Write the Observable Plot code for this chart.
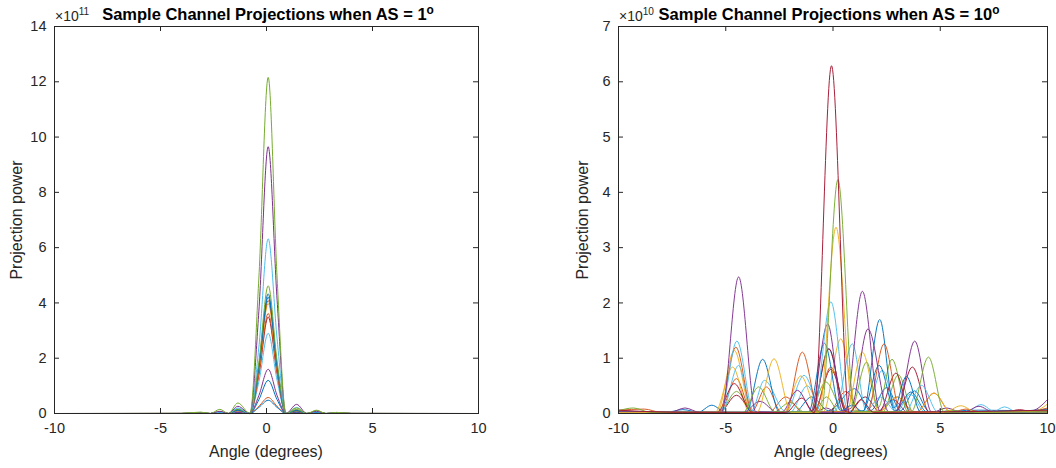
<!DOCTYPE html>
<html><head><meta charset="utf-8">
<script src="https://cdn.jsdelivr.net/npm/d3@7"></script>
<script src="https://cdn.jsdelivr.net/npm/@observablehq/plot@0.6"></script>
<style>
body{margin:0;background:#fff;font-family:"Liberation Sans",Arial,Helvetica,sans-serif;}
#fig{position:relative;width:1056px;height:468px;overflow:hidden;background:#fff;}
.panel{position:absolute;top:0;}
.t{position:absolute;white-space:nowrap;color:#000;line-height:1;}
.sup{position:relative;font-size:0.72em;}
</style></head><body><div id="fig"></div>
<script>
// ---------- tick labels ----------
const xTicks = [-10, -5, 0, 5, 10];
const leftYTicks = [0, 2, 4, 6, 8, 10, 12, 14];
const rightYTicks = [0, 1, 2, 3, 4, 5, 6, 7];

// ---------- left panel (AS = 1°), values in units of 1e11 on a shared angle grid ----------
const leftAngles = [-10, -4, -3.1, -2.65, -2.2, -1.8, -1.35, -0.78, -0.36, 0.08, 0.5, 0.92, 1.42, 1.9, 2.36, 2.8, 3.3, 4, 10];
const as1_orange3 = [0, 0, 0, 0, 0.01, 0, 0.02, 0, 0.26, 0.58, 0.26, 0, 0.02, 0, 0.01, 0, 0, 0, 0];
const as1_blue4   = [0, 0, 0, 0, 0.01, 0, 0.02, 0, 0.22, 0.48, 0.22, 0, 0.02, 0, 0.01, 0, 0, 0, 0];
const as1_blue3   = [0, 0, 0, 0, 0.01, 0, 0.04, 0, 0.5, 1.2, 0.5, 0, 0.05, 0, 0.01, 0, 0, 0, 0];
const as1_purple2 = [0, 0, 0, 0, 0.02, 0, 0.05, 0, 0.65, 1.6, 0.65, 0, 0.06, 0, 0.02, 0, 0, 0, 0];
const as1_cyan2   = [0, 0, 0.01, 0, 0.02, 0, 0.08, 0, 1.15, 2.9, 1.2, 0, 0.1, 0, 0.02, 0, 0.01, 0, 0];
const as1_darkred1= [0, 0, 0.01, 0, 0.03, 0, 0.15, 0, 1.4, 3.49, 1.45, 0, 0.12, 0, 0.03, 0, 0.01, 0, 0];
const as1_orange2 = [0, 0, 0.01, 0, 0.03, 0, 0.1, 0, 1.45, 3.62, 1.5, 0, 0.08, 0, 0.03, 0, 0.01, 0, 0];
const as1_yellow1 = [0, 0, 0.02, 0, 0.04, 0, 0.12, 0, 1.6, 3.98, 1.65, 0, 0.1, 0, 0.04, 0, 0.01, 0, 0];
const as1_orange1 = [0, 0, 0.01, 0, 0.03, 0, 0.1, 0, 1.6, 4.09, 1.7, 0, 0.12, 0, 0.03, 0, 0.01, 0, 0];
const as1_blue2   = [0, 0, 0.01, 0, 0.03, 0, 0.14, 0, 1.7, 4.21, 1.7, 0, 0.1, 0, 0.03, 0, 0.01, 0, 0];
const as1_blue1   = [0, 0, 0.01, 0, 0.04, 0, 0.12, 0, 1.75, 4.33, 1.75, 0, 0.12, 0, 0.04, 0, 0.01, 0, 0];
const as1_green2  = [0, 0, 0.03, 0, 0.07, 0, 0.16, 0, 1.85, 4.62, 1.9, 0, 0.15, 0, 0.1, 0, 0.03, 0, 0];
const as1_cyan1   = [0, 0, 0.02, 0, 0.05, 0, 0.2, 0, 2.4, 6.32, 2.7, 0, 0.22, 0, 0.06, 0, 0.02, 0, 0];
const as1_purple1 = [0, 0.01, 0.03, 0, 0.08, 0, 0.26, 0, 3.7, 9.65, 4.1, 0, 0.33, 0, 0.08, 0, 0.03, 0.01, 0];
const as1_green1  = [0, 0.01, 0.05, 0, 0.15, 0, 0.38, 0, 4.9, 12.16, 4.9, 0, 0.2, 0, 0.12, 0, 0.04, 0.01, 0];

// ---------- right panel (AS = 10°), [angle, power in units of 1e10] ----------
const as10_blue1 = [[-10,0.03],[-6,0.02],[-4.05,0.02],[-3.28,0.98],[-2.5,0.03],[-1.15,0.02],[-0.4,1.27],[0.35,0.05],[0.9,0.15],[1.4,0.03],[2.18,1.7],[2.85,0.1],[3.42,0.67],[4.1,0.02],[7,0.03],[10,0.06]];
const as10_blue2 = [[-10,0.02],[-6.3,0.02],[-5.65,0.15],[-5.0,0.02],[-1.0,0.03],[-0.2,1.17],[0.6,0.04],[1.4,0.05],[2.15,0.87],[2.9,0.05],[3.63,0.39],[4.4,0.02],[8,0.03],[10,0.08]];
const as10_blue3 = [[-10,0.05],[-7.8,0.02],[-7.0,0.07],[-6.2,0.02],[-1.8,0.02],[-1.0,0.3],[-0.2,0.05],[1.0,0.45],[1.75,0.05],[2.5,0.47],[3.15,0.05],[3.8,0.41],[4.5,0.03],[6.8,0.06],[10,0.04]];
const as10_orange1 = [[-10,0.06],[-8.8,0.08],[-8,0.02],[-5.3,0.02],[-4.53,1.2],[-3.75,0.03],[-2.2,0.03],[-1.43,1.11],[-0.65,0.03],[1.6,0.03],[2.38,1.26],[3.15,0.03],[6,0.02],[10,0.02]];
const as10_orange2 = [[-10,0.03],[-5.3,0.02],[-4.5,0.63],[-3.8,0.03],[-3.1,0.48],[-2.4,0.02],[-0.9,0.02],[-0.1,0.84],[0.7,0.03],[3.9,0.03],[4.71,0.37],[5.5,0.02],[9,0.03],[10,0.1]];
const as10_orange3 = [[-10,0.02],[-3,0.02],[-2.2,0.3],[-1.4,0.02],[-0.2,0.03],[0.6,0.4],[1.3,0.03],[2.2,0.05],[3.0,0.3],[3.8,0.02],[5.5,0.02],[6.2,0.08],[7,0.02],[10,0.03]];
const as10_yellow1 = [[-10,0.02],[-3.55,0.02],[-2.75,0.99],[-1.95,0.02],[-0.65,0.02],[0.14,3.37],[0.95,0.03],[5.2,0.02],[5.96,0.14],[6.7,0.02],[10,0.05]];
const as10_yellow2 = [[-10,0.04],[-5.5,0.02],[-4.68,0.84],[-3.9,0.03],[-0.45,0.03],[0.36,1.35],[1.15,0.03],[3.9,0.02],[4.71,0.37],[5.5,0.02],[9.2,0.02],[10,0.17]];
const as10_yellow3 = [[-10,0.02],[-5.4,0.02],[-4.6,1.14],[-3.8,0.03],[-2.3,0.02],[-1.5,0.68],[-0.7,0.03],[0.6,0.03],[1.37,1.11],[2.15,0.03],[3.0,0.3],[3.7,0.02],[10,0.03]];
const as10_purple1 = [[-10,0.03],[-7.6,0.02],[-6.9,0.1],[-6.2,0.02],[-5.2,0.02],[-4.4,2.47],[-3.6,0.03],[-2.4,0.02],[-1.66,0.42],[-0.9,0.02],[0.55,0.02],[1.37,2.21],[2.2,0.03],[6.1,0.02],[6.8,0.13],[7.5,0.02],[10,0.04]];
const as10_purple2 = [[-10,0.02],[-1.05,0.02],[-0.25,1.62],[0.45,0.05],[0.85,0.1],[1.63,1.53],[2.6,0.03],[3.0,0.05],[3.81,1.31],[4.6,0.02],[8.5,0.02],[9.3,0.05],[10,0.25]];
const as10_purple3 = [[-10,0.04],[-4.2,0.02],[-3.4,0.22],[-2.6,0.02],[-0.9,0.02],[-0.3,0.1],[0.2,0.0],[2.0,0.02],[2.8,0.25],[3.5,0.02],[4.6,0.02],[5.3,0.1],[6,0.02],[10,0.03]];
const as10_green1 = [[-10,0.05],[-9.3,0.1],[-8.5,0.02],[-4.2,0.02],[-3.47,0.48],[-2.7,0.03],[-0.55,0.03],[0.23,4.23],[1.0,0.04],[3.65,0.03],[4.45,1.02],[5.2,0.02],[10,0.03]];
const as10_green2 = [[-10,0.02],[-5.3,0.02],[-4.5,0.4],[-3.7,0.02],[-1.1,0.02],[-0.34,0.57],[0.5,0.03],[0.8,0.02],[1.57,0.93],[2.1,0.1],[2.75,0.98],[3.5,0.03],[10,0.04]];
const as10_green3 = [[-10,0.03],[-2.8,0.02],[-2.0,0.2],[-1.3,0.02],[-0.9,0.02],[-0.3,0.3],[0.3,0.02],[2.3,0.02],[3.05,0.7],[3.75,0.02],[4.9,0.02],[5.5,0.06],[6.2,0.02],[10,0.02]];
const as10_cyan1 = [[-10,0.02],[-5.25,0.02],[-4.48,1.31],[-3.7,0.03],[-0.9,0.03],[-0.1,2.02],[0.7,0.04],[3.35,0.02],[4.12,0.51],[4.9,0.02],[6.2,0.02],[6.9,0.16],[7.6,0.02],[10,0.03]];
const as10_cyan2 = [[-10,0.03],[-5.2,0.02],[-4.4,0.87],[-3.8,0.05],[-3.2,0.6],[-2.2,0.03],[-1.35,0.69],[-0.5,0.03],[0.1,0.05],[0.9,1.26],[1.55,0.05],[2.2,0.3],[3,0.02],[7.4,0.02],[8.0,0.12],[8.6,0.02],[10,0.04]];
const as10_cyan3 = [[-10,0.02],[-2.0,0.02],[-1.2,0.5],[-0.5,0.02],[1.5,0.02],[2.3,0.78],[3.0,0.05],[3.6,0.35],[4.3,0.02],[10,0.02]];
const as10_darkred2 = [[-10,0.04],[-5.4,0.02],[-4.6,0.54],[-3.8,0.03],[-1.0,0.03],[-0.19,1.17],[0.6,0.03],[2.15,0.03],[2.93,0.73],[3.6,0.03],[8.0,0.02],[8.7,0.07],[9.4,0.02],[10,0.04]];
const as10_darkred3 = [[-10,0.02],[-5.3,0.02],[-4.5,0.33],[-3.7,0.02],[-0.9,0.02],[-0.1,0.8],[0.7,0.02],[1.5,0.3],[2.2,0.02],[2.9,0.03],[3.7,0.84],[4.5,0.02],[10,0.05]];
const as10_darkred1 = [[-10,0.06],[-7,0.02],[-2.2,0.02],[-1.45,0.28],[-0.88,0.01],[-0.07,6.29],[0.75,0.01],[1.3,0.25],[1.9,0.02],[10,0.06]];

// ---------- styling ----------
const C = {blue:"#0072BD", orange:"#D95319", yellow:"#EDB120", purple:"#7E2F8E", green:"#77AC30", cyan:"#4DBEEE", darkred:"#A2142F"};
const leftSeries = [
  [as1_orange3, C.orange], [as1_blue4, C.blue], [as1_blue3, C.blue], [as1_purple2, C.purple],
  [as1_cyan2, C.cyan], [as1_darkred1, C.darkred], [as1_orange2, C.orange], [as1_yellow1, C.yellow],
  [as1_orange1, C.orange], [as1_blue2, C.blue], [as1_blue1, C.blue], [as1_green2, C.green],
  [as1_cyan1, C.cyan], [as1_purple1, C.purple], [as1_green1, C.green]
];
const rightSeries = [
  [as10_blue3, C.blue], [as10_orange3, C.orange], [as10_purple3, C.purple], [as10_green3, C.green], [as10_cyan3, C.cyan],
  [as10_darkred3, C.darkred], [as10_yellow3, C.yellow], [as10_blue2, C.blue], [as10_orange2, C.orange], [as10_yellow2, C.yellow],
  [as10_green2, C.green], [as10_cyan2, C.cyan], [as10_darkred2, C.darkred], [as10_blue1, C.blue], [as10_orange1, C.orange],
  [as10_purple2, C.purple], [as10_cyan1, C.cyan], [as10_purple1, C.purple], [as10_yellow1, C.yellow], [as10_green1, C.green],
  [as10_darkred1, C.darkred]
];

const FONT = "'Liberation Sans', Arial, Helvetica, sans-serif";
const AX = "#262626";
const fmt = d => String(d);
const TICK = 5;

// MATLAB-style box: labels outside, short ticks pointing inward on all four sides
function axesMarks(yTicks, frameW, frameH) {
  return [
    Plot.frame({stroke: AX, strokeWidth: 1}),
    Plot.axisX(xTicks, {anchor: "bottom", tickSize: 0, tickPadding: 9, tickFormat: fmt, label: null, fill: AX}),
    Plot.axisY(yTicks, {anchor: "left", tickSize: 0, tickPadding: 8, tickFormat: fmt, label: null, fill: AX}),
    Plot.tickX(xTicks, {x: d => d, stroke: AX, strokeWidth: 1, insetTop: frameH - TICK}),
    Plot.tickX(xTicks, {x: d => d, stroke: AX, strokeWidth: 1, insetBottom: frameH - TICK}),
    Plot.tickY(yTicks, {y: d => d, stroke: AX, strokeWidth: 1, insetRight: frameW - TICK}),
    Plot.tickY(yTicks, {y: d => d, stroke: AX, strokeWidth: 1, insetLeft: frameW - TICK})
  ];
}

const leftLines = leftSeries.map(([vals, color]) =>
  Plot.line(leftAngles, {x: a => a, y: (a, i) => vals[i], stroke: color, strokeWidth: 1, curve: "monotone-x"}));
const rightLines = rightSeries.map(([pts, color]) =>
  Plot.line(pts, {x: d => d[0], y: d => d[1], stroke: color, strokeWidth: 0.95, curve: "monotone-x"}));

const leftPlot = Plot.plot({
  width: 528, height: 468,
  marginLeft: 54, marginRight: 50, marginTop: 26, marginBottom: 55,
  style: {fontFamily: FONT, fontSize: "14.5px", color: AX, background: "transparent", overflow: "visible"},
  x: {domain: [-10, 10], label: null},
  y: {domain: [0, 14], label: null},
  marks: [...leftLines, ...axesMarks(leftYTicks, 528 - 54 - 50, 468 - 26 - 55)]
});
const rightPlot = Plot.plot({
  width: 528, height: 468,
  marginLeft: 90, marginRight: 9, marginTop: 26, marginBottom: 55,
  style: {fontFamily: FONT, fontSize: "14.5px", color: AX, background: "transparent", overflow: "visible"},
  x: {domain: [-10, 10], label: null},
  y: {domain: [0, 7], label: null},
  marks: [...rightLines, ...axesMarks(rightYTicks, 528 - 90 - 9, 468 - 26 - 55)]
});

const fig = document.getElementById("fig");
leftPlot.classList.add("panel"); leftPlot.style.left = "0px";
rightPlot.classList.add("panel"); rightPlot.style.left = "528px";
fig.appendChild(leftPlot); fig.appendChild(rightPlot);

function addText(html, css) {
  const d = document.createElement("div");
  d.className = "t"; d.innerHTML = html;
  Object.assign(d.style, css);
  fig.appendChild(d);
}
const titleCss = {fontWeight: "bold", fontSize: "16.5px", top: "5.5px", transform: "translateX(-50%)"};
addText('Sample Channel Projections when AS = 1<span class="sup" style="top:-0.5em">o</span>', {...titleCss, left: "268px"});
addText('Sample Channel Projections when AS = 10<span class="sup" style="top:-0.5em">o</span>', {...titleCss, left: "829px"});
const expCss = {fontSize: "14px", top: "8.7px", color: AX};
addText('\u00d710<span class="sup" style="top:-0.55em">11</span>', {...expCss, left: "55px"});
addText('\u00d710<span class="sup" style="top:-0.55em">10</span>', {...expCss, left: "619px"});
const xlCss = {fontSize: "16px", top: "443.5px", transform: "translateX(-50%)", color: AX};
addText('Angle (degrees)', {...xlCss, left: "266px"});
addText('Angle (degrees)', {...xlCss, left: "831px"});
const ylCss = {fontSize: "16px", top: "219.5px", transform: "translate(-50%,-50%) rotate(-90deg)", color: AX};
addText('Projection power', {...ylCss, left: "17px"});
addText('Projection power', {...ylCss, left: "583px"});
</script></body></html>
